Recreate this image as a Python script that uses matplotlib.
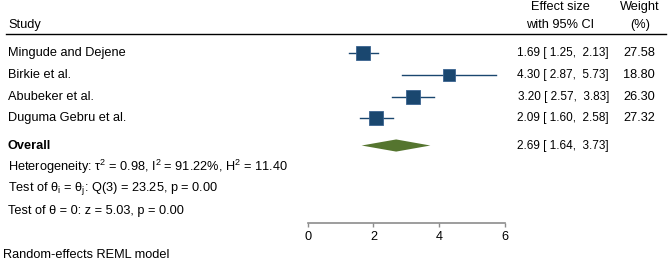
import matplotlib
matplotlib.use("Agg")
import matplotlib.pyplot as plt
from matplotlib.transforms import blended_transform_factory
import numpy as np

plt.rcParams['font.family'] = ['Liberation Sans', 'DejaVu Sans']
plt.rcParams['mathtext.fontset'] = 'custom'
plt.rcParams['mathtext.rm'] = 'Liberation Sans'
plt.rcParams['mathtext.it'] = 'Liberation Sans:italic'

# study data
studies = ['Mingude and Dejene', 'Birkie et al.', 'Abubeker et al.', 'Duguma Gebru et al.']
effect = [1.69, 4.30, 3.20, 2.09]
ci_low = [1.25, 2.87, 2.57, 1.60]
ci_high = [2.13, 5.73, 3.83, 2.58]
weight = [27.58, 18.80, 26.30, 27.32]

# overall estimate
overall = 2.69
overall_low = 1.64
overall_high = 3.73

stats_lines = [
    r'Heterogeneity: τ$\mathregular{^2}$ = 0.98, I$\mathregular{^2}$ = 91.22%, H$\mathregular{^2}$ = 11.40',
    r'Test of θ$\mathregular{_i}$ = θ$\mathregular{_j}$: Q(3) = 23.25, p = 0.00',
    'Test of θ = 0: z = 5.03, p = 0.00',
]
xticks = [0, 2, 4, 6]

W, H = 669, 264
fig = plt.figure(figsize=(W / 100, H / 100), dpi=100)
ax = fig.add_axes([307.7 / W, 0, 197.3 / W, 1])
ax.set_xlim(0, 6)
ax.set_ylim(9.71, -2.456)

navy = '#1a476f'
green = '#55752f'
fs = 9.2
fs_ci = 8.5

rows = np.arange(len(studies))
overall_row = 4.25

# CI lines and weighted squares
for r, e, lo, hi, w in zip(rows, effect, ci_low, ci_high, weight):
    ax.plot([lo, hi], [r, r], color=navy, lw=1.0, clip_on=False, zorder=2)
    ax.plot(e, r, marker='s', ms=1.95 * np.sqrt(w), color=navy, mec='#3a6390',
            mew=0.6, clip_on=False, zorder=3)

# overall diamond
ax.fill([overall_low, overall, overall_high, overall],
        [overall_row, overall_row - 0.28, overall_row, overall_row + 0.28],
        color=green, lw=0, clip_on=False)

# x axis
for s in ['top', 'right', 'left']:
    ax.spines[s].set_visible(False)
ax.spines['bottom'].set_position(('data', 7.81))
ax.spines['bottom'].set_color('#8c8c8c')
ax.spines['bottom'].set_linewidth(1.2)
ax.set_xticks(xticks)
ax.tick_params(axis='x', direction='out', length=3, width=1, color='#8c8c8c',
               labelsize=fs, pad=3)
ax.set_yticks([])
ax.patch.set_visible(False)

tr = blended_transform_factory(fig.transFigure, ax.transData)

def px(x):
    return x / W

# headers
ax.text(px(8), -1.30, 'Study', transform=tr, fontsize=fs, va='center', ha='left')
ax.text(px(560), -2.13, 'Effect size', transform=tr, fontsize=fs, va='center', ha='center')
ax.text(px(560), -1.30, 'with 95% CI', transform=tr, fontsize=fs, va='center', ha='center')
ax.text(px(640), -2.13, 'Weight', transform=tr, fontsize=fs, va='center', ha='center')
ax.text(px(640), -1.30, '(%)', transform=tr, fontsize=fs, va='center', ha='center')
ax.plot([px(6), px(666)], [-0.89, -0.89], transform=tr, color='black', lw=1.0, clip_on=False)

# study rows
for r, name, e, lo, hi, w in zip(rows, studies, effect, ci_low, ci_high, weight):
    ax.text(px(8), r, name, transform=tr, fontsize=fs, va='center', ha='left')
    ax.text(px(609), r, f'{e:.2f} [ {lo:.2f},  {hi:.2f}]', transform=tr,
            fontsize=fs_ci, va='center', ha='right')
    ax.text(px(655), r, f'{w:.2f}', transform=tr, fontsize=fs, va='center', ha='right')

ax.text(px(8), overall_row, 'Overall', transform=tr, fontsize=fs, va='center',
        ha='left', fontweight='bold')
ax.text(px(609), overall_row, f'{overall:.2f} [ {overall_low:.2f},  {overall_high:.2f}]',
        transform=tr, fontsize=fs_ci, va='center', ha='right')

for i, line in enumerate(stats_lines):
    ax.text(px(8), overall_row + 1 + i, line, transform=tr, fontsize=fs,
            va='center', ha='left')

ax.text(px(3), 9.3, 'Random-effects REML model', transform=tr, fontsize=fs,
        va='center', ha='left')

fig.savefig('out.png', dpi=100, facecolor='white')
